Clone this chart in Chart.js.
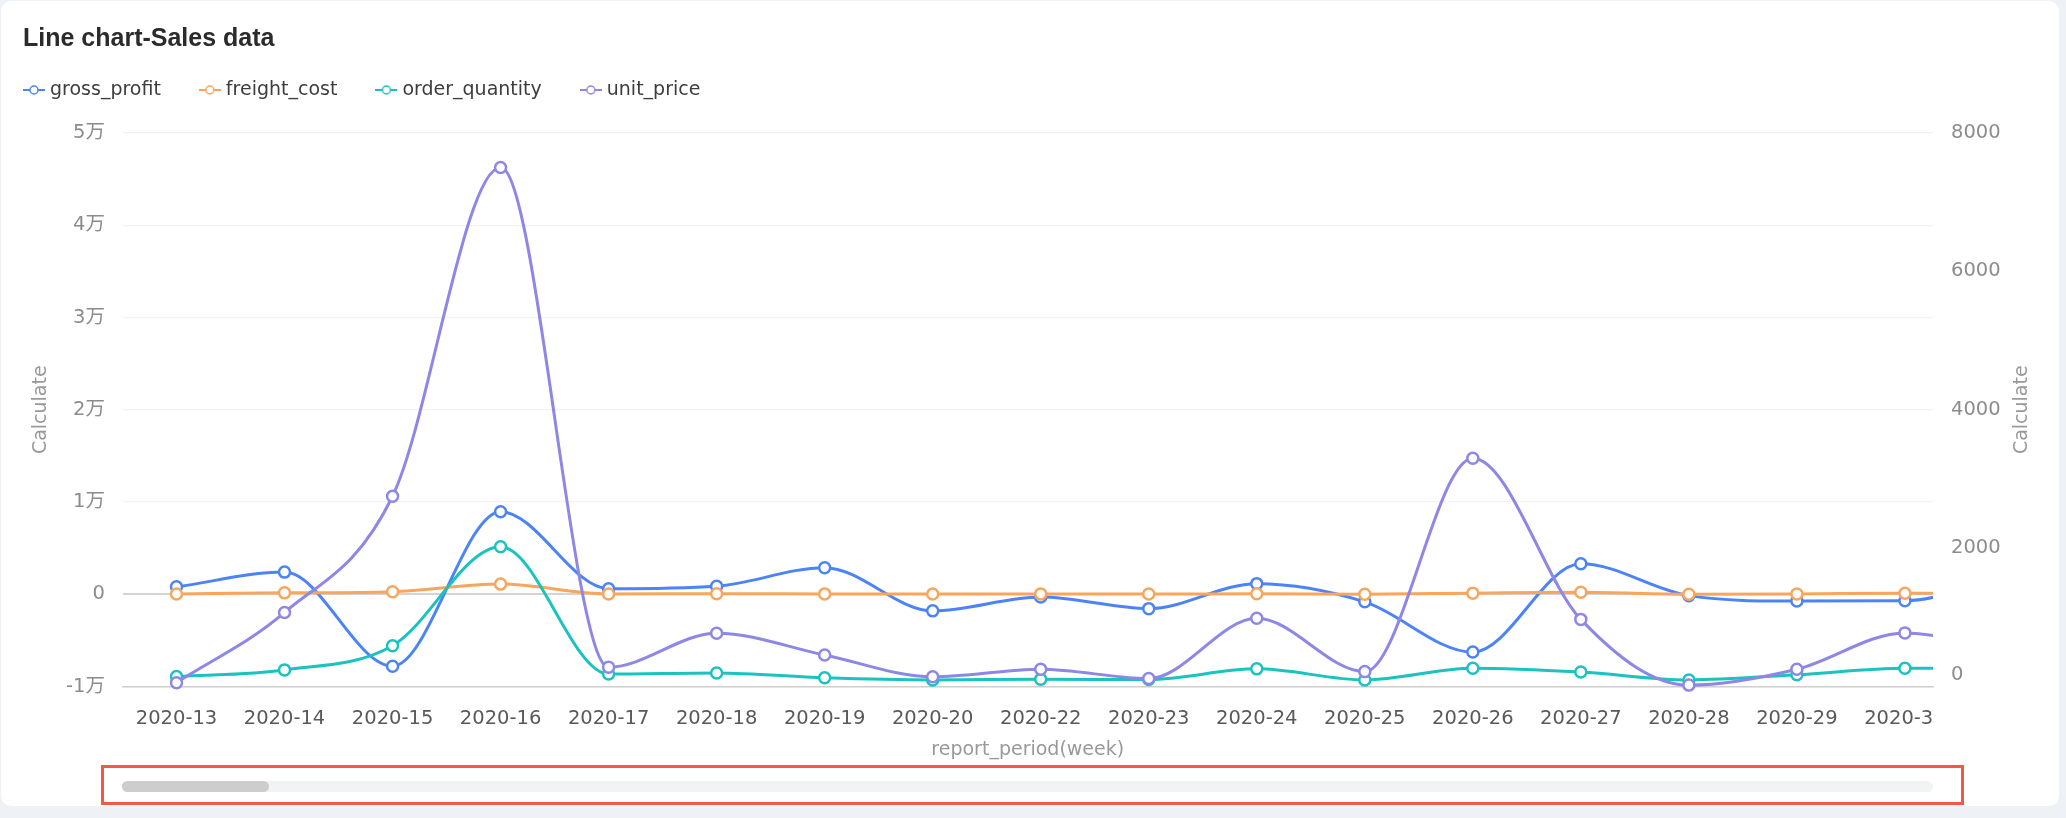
<!DOCTYPE html>
<html lang="en">
<head>
<meta charset="UTF-8">
<title>Line chart-Sales data</title>
<script src="https://cdn.jsdelivr.net/npm/chart.js"></script>
<style>
  body {
    margin: 0;
    width: 2066px;
    height: 818px;
    overflow: hidden;
    position: relative;
    background-color: #eef1f5;
  }
  .card {
    position: absolute;
    left: 1px;
    top: 1px;
    width: 2058px;
    height: 805px;
    background-color: #fff;
    border-radius: 10px;
  }
  #salesChart {
    position: absolute;
    left: 0;
    top: 0;
  }
  .scroll-track,
  .scroll-thumb {
    position: absolute;
    top: 781px;
    height: 11px;
    border-radius: 6px;
  }
  .scroll-track {
    left: 122px;
    width: 1811px;
    background-color: #f2f3f5;
  }
  .scroll-thumb {
    left: 122px;
    width: 147px;
    background-color: #cdcdcd;
  }
  .zoom-frame {
    position: absolute;
    left: 101px;
    top: 765px;
    width: 1863px;
    height: 40px;
    box-sizing: border-box;
    border: 3.5px solid #f5584b;
  }
</style>
</head>
<body>
<div class="card"></div>
<canvas id="salesChart" width="2066" height="818" style="width:2066px;height:818px"></canvas>
<div class="scroll-track"></div>
<div class="scroll-thumb"></div>
<div class="zoom-frame"></div>
<script>
// data (2020-31 is the point just past the visible window)
const weeks = ['2020-13', '2020-14', '2020-15', '2020-16', '2020-17', '2020-18', '2020-19', '2020-20', '2020-22',
  '2020-23', '2020-24', '2020-25', '2020-26', '2020-27', '2020-28', '2020-29', '2020-30', '2020-31'];
const grossProfit = [800, 2400, -7800, 8950, 600, 870, 2880, -1800, -300, -1560, 1150, -820, -6270, 3300, -150, -740, -700, 2200];
const freightCost = [30, 150, 280, 1100, 30, 60, 40, 30, 40, 20, 60, 10, 120, 220, 10, 40, 110, 100];
const orderQuantity = [145, 240, 590, 2020, 180, 195, 125, 95, 105, 100, 255, 95, 265, 210, 95, 170, 265, 260];
const unitPrice = [55, 1070, 2750, 7500, 280, 770, 455, 140, 250, 115, 985, 215, 3300, 970, 20, 250, 775, 450];

const leftTickValues = [-10000, 0, 10000, 20000, 30000, 40000, 50000];
const rightTickValues = [0, 2000, 4000, 6000, 8000];

// visible part of the scrolled x axis (in category index units)
const xMin = -0.5;
const xMax = 16.26;

Chart.defaults.font.family = "'DejaVu Sans', 'Noto Sans CJK SC', sans-serif";

function series(label, values, color, axis) {
  return {
    label: label,
    yAxisID: axis,
    data: values.map((v, i) => ({ x: i, y: v })),
    borderColor: color,
    backgroundColor: color,
    borderWidth: 3,
    pointRadius: 5.5,
    pointBorderWidth: 2.5,
    pointBackgroundColor: '#fff',
    pointBorderColor: color,
    cubicInterpolationMode: 'monotone',
    clip: { left: 0, right: 0, top: 12, bottom: 12 }
  };
}

// small "line + hollow dot" legend marker
const icons = {};
function legendIcon(color) {
  if (icons[color]) return icons[color];
  const c = document.createElement('canvas');
  c.width = 22;
  c.height = 12;
  const g = c.getContext('2d');
  g.strokeStyle = color;
  g.lineWidth = 2;
  g.beginPath();
  g.moveTo(0, 6);
  g.lineTo(22, 6);
  g.stroke();
  g.beginPath();
  g.arc(11, 6, 4, 0, Math.PI * 2);
  g.fillStyle = '#fff';
  g.fill();
  g.lineWidth = 1.5;
  g.stroke();
  icons[color] = c;
  return c;
}

// legend sits closer to the left edge than chart.js puts it
const legendPlace = {
  id: 'legendPlace',
  afterLayout(chart) {
    const pad = chart.options.plugins.legend.labels.padding;
    chart.legend.left = 27.5 - pad;
    chart.legend.top = 90 - pad - 9.5;
  }
};

// the last week label is cut by the scroll window
const clipLastLabel = {
  id: 'clipLastLabel',
  beforeDraw(chart) {
    const { ctx, chartArea } = chart;
    const xs = chart.scales.x;
    ctx.save();
    ctx.beginPath();
    ctx.rect(0, 0, chart.width, chart.height);
    ctx.rect(chartArea.right, xs.top + 2, chart.width - chartArea.right, xs.bottom - xs.top);
    ctx.clip('evenodd');
  },
  afterDraw(chart) {
    chart.ctx.restore();
  }
};

// right axis name reads bottom-to-top like the left one
const rightTitle = {
  id: 'rightTitle',
  afterDraw(chart) {
    const { ctx, chartArea } = chart;
    ctx.save();
    ctx.translate(chart.scales.y1.right - 21, (chartArea.top + chartArea.bottom) / 2);
    ctx.rotate(-Math.PI / 2);
    ctx.font = "19px 'DejaVu Sans', sans-serif";
    ctx.fillStyle = '#999';
    ctx.textAlign = 'center';
    ctx.textBaseline = 'middle';
    ctx.fillText('Calculate', 0, 0);
    ctx.restore();
  }
};

const ctx = document.getElementById('salesChart').getContext('2d');
new Chart(ctx, {
  type: 'line',
  data: {
    // later series are drawn on top in the original, chart.js draws the first on top
    datasets: [
      series('unit_price', unitPrice, '#8d87e6', 'y1'),
      series('order_quantity', orderQuantity, '#1ac3bf', 'y1'),
      series('freight_cost', freightCost, '#faa55c', 'y'),
      series('gross_profit', grossProfit, '#4c84f8', 'y')
    ]
  },
  options: {
    responsive: false,
    animation: false,
    events: [],
    layout: {
      padding: { left: 23, right: 23, top: 0, bottom: 51.5 }
    },
    elements: {
      line: { capBezierPoints: false }
    },
    plugins: {
      tooltip: { enabled: false },
      title: {
        display: true,
        text: 'Line chart-Sales data',
        align: 'start',
        color: '#2b2b2b',
        font: { family: "'Liberation Sans', Arial, sans-serif", size: 25, weight: 'bold' },
        padding: { top: 24, bottom: 7.5 }
      },
      legend: {
        display: true,
        align: 'start',
        reverse: true,
        labels: {
          usePointStyle: true,
          pointStyleWidth: 13,
          padding: 42.5,
          color: '#3d3d3d',
          font: { size: 19 },
          generateLabels(chart) {
            const items = Chart.defaults.plugins.legend.labels.generateLabels(chart);
            items.forEach(item => {
              item.pointStyle = legendIcon(chart.data.datasets[item.datasetIndex].borderColor);
            });
            return items;
          }
        }
      }
    },
    scales: {
      x: {
        type: 'linear',
        min: xMin,
        max: xMax,
        afterBuildTicks: axis => {
          axis.ticks = weeks.map((w, i) => ({ value: i })).filter(t => t.value >= xMin && t.value <= xMax);
        },
        afterFit: axis => { axis.height = 80; },
        grid: { drawOnChartArea: false, drawTicks: false },
        border: { display: true, color: '#cfcfcf', width: 1.5 },
        ticks: {
          autoSkip: false,
          maxRotation: 0,
          minRotation: 0,
          padding: 21,
          color: '#595959',
          font: { size: 19.5 },
          callback: v => weeks[v]
        },
        title: {
          display: true,
          text: 'report_period(week)',
          color: '#999',
          font: { size: 19 },
          padding: { top: 0, bottom: 5 }
        }
      },
      y: {
        position: 'left',
        min: -10000,
        max: 50000,
        afterBuildTicks: axis => { axis.ticks = leftTickValues.map(v => ({ value: v })); },
        afterFit: axis => { axis.width = 99.5; },
        grid: {
          color: c => (c.tick && c.tick.value === 0 ? '#d4d4d4' : '#f2f2f2'),
          lineWidth: c => (c.tick && c.tick.value === 0 ? 2 : 1.2),
          drawTicks: false
        },
        border: { display: false },
        ticks: {
          padding: 17.5,
          color: '#8c8c8c',
          font: { size: 19.5 },
          callback: v => (v === 0 ? '0' : (v / 10000) + '万')
        },
        title: {
          display: true,
          text: 'Calculate',
          color: '#999',
          font: { size: 19 },
          padding: { top: 6.6, bottom: 0 }
        }
      },
      y1: {
        position: 'right',
        min: 0,
        max: 8000,
        afterBuildTicks: axis => { axis.ticks = rightTickValues.map(v => ({ value: v })); },
        afterFit: axis => { axis.width = 110; },
        grid: { drawOnChartArea: false, drawTicks: false },
        border: { display: false },
        ticks: {
          padding: 18,
          color: '#8c8c8c',
          font: { size: 19.5 },
          // bottom label sits a little above its tick in the original
          callback: v => (v === 0 ? ['0', ''] : String(v))
        }
      }
    }
  },
  plugins: [legendPlace, clipLastLabel, rightTitle]
});
</script>
</body>
</html>
